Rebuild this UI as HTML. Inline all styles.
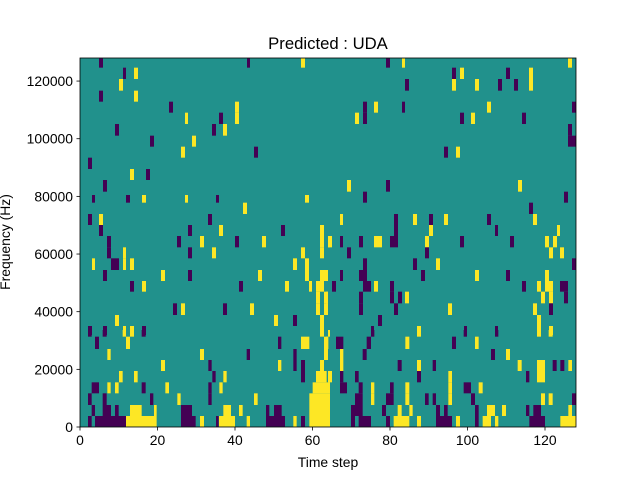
<!DOCTYPE html>
<html><head><meta charset="utf-8"><style>
body{margin:0;background:#fff;}
svg{display:block;font-family:"Liberation Sans","DejaVu Sans",sans-serif;}
</style></head><body>
<svg id="s" width="640" height="480" xmlns="http://www.w3.org/2000/svg">
<defs><clipPath id="c"><rect x="80" y="58" width="496" height="369"/></clipPath></defs>
<rect x="80" y="58" width="496" height="369" fill="#21918c"/>
<g id="cells" clip-path="url(#c)"></g>
<rect x="80" y="58" width="496" height="369" fill="none" stroke="#000" stroke-width="0.8"/>
<g id="ax" font-size="13.9" fill="#000"></g>
<text x="328" y="49" font-size="16.7" text-anchor="middle">Predicted : UDA</text>
<text x="328" y="467" font-size="13.9" text-anchor="middle">Time step</text>
<text transform="translate(10,242) rotate(-90)" font-size="13.9" text-anchor="middle">Frequency (Hz)</text>
</svg>
<script>
var Z=[
[80,330,{"258-290":"P24-35 P45-138 Y138-230 P303-347 Y360-372 P408-416 Y417-465 Y500-510 P558-615 Y640-650 P663-675 Y688-750",
"225-258":"P35-45 P68-93 P105-116 Y150-185 Y222-230 P303-336 Y430-453 Y477-488 P558-568 P582-605 Y688-750",
"190-225":"P24-35 P68-80 P210-220 Y292-302 P385-395 Y522-533 Y688-750",
"157-190":"P35-57 Y82-92 Y105-116 P185-197 Y256-267 P385-395 Y418-428 Y698-750",
"123-157":"Y117-128 Y162-173 P397-407 Y430-440 P663-675 Y708-740 Y744-750",
"90-123":"Y243-255 P385-395 Y594-604 P640-650 P663-675 Y720-732",
"57-90":"Y82-92 Y360-372 P500-510 P640-650 Y732-744",
"20-57":"P45-57 Y138-150 P594-604 Y663-688 Y732-744",
"0-20":"P24-35 P68-80 Y128-138 Y150-162 P185-197 Y720-732 Y744-750"}],
[326,330,{"258-290":"P75-87 P98-135 P180-192 Y203-250 Y273-285 P330-378 Y390-402 P447-458 Y470-495 Y507-517 P610-657 Y703-750",
"225-258":"Y0-7 P75-110 P168-180 Y215-227 Y250-260 P330-342 P354-365 P447-458 Y483-507 Y528-540 P600-610 P622-645 Y727-738",
"190-225":"P87-110 Y135-145 P180-203 Y238-250 P297-308 P320-330 Y367-378 P435-447 Y645-657 Y668-680 P738-750",
"157-190":"P42-63 P98-110 Y135-145 P192-203 Y238-250 Y367-378 P413-435 Y458-470",
"123-157":"Y7-18 P42-52 P87-98 P273-285 Y367-378 P600-610 Y633-657",
"90-123":"Y42-52 P215-227 Y273-285 P320-330 Y575-587 Y633-657 P680-692 P703-715 Y727-738",
"57-90":"Y42-52 P110-122 P495-507 Y540-552",
"20-57":"Y0-7 P30-52 P122-135 Y238-250 P378-390 Y447-458",
"0-20":"P135-145 Y273-285 P413-423 P507-517 Y633-645 Y668-680"}],
[80,195,{"0-23":"P36-45 P138-150 Y186-198 Y315-324 P408-417 Y675-687",
"23-57":"Y489-501",
"57-90":"P24-36 Y57-69 P384-396",
"90-123":"P57-69 P324-336 Y417-429 P603-615 Y720-732",
"123-157":"P81-93 P291-303 Y360-372 P465-477 Y546-558 Y720-732 Y744-750",
"157-190":"P81-93 Y129-138 P324-336 Y396-408 Y663-675 Y720-732",
"190-225":"Y36-45 P93-117 Y129-138 Y150-162 Y639-651 Y675-687",
"225-258":"P69-81 Y243-255 P324-336 Y534-546 Y675-687 Y720-744",
"258-290":"P150-162 Y186-198 P477-489 Y615-627 Y687-696 Y708-732",
"290-325":"Y708-720 Y732-744",
"325-360":"P279-291 Y303-315 P429-441 Y510-522 Y708-720 Y732-744",
"360-393":"Y105-117 Y582-594 P639-651 Y720-732",
"393-420":"P24-36 P69-81 Y129-138 Y150-162 P186-198 Y720-732"}],
[326,195,{"0-23":"P111-123 P714-726",
"23-57":"P609-621",
"57-90":"Y42-51 P204-216 Y261-273 P309-321 Y354-366 P483-495 Y621-633",
"90-123":"P204-216 Y309-321 P507-516 Y693-702",
"123-157":"Y6-18 P42-51 P99-111 Y144-168 P192-216 Y297-309 P402-414 P552-564 Y657-669 Y681-693",
"157-190":"P63-75 P297-309 Y669-681 Y702-714",
"190-225":"P111-123 P261-273 Y330-342 P738-750",
"225-258":"Y0-6 P42-51 P99-123 P285-297 Y447-459 P540-552 Y657-669",
"258-290":"P18-30 P111-135 Y144-156 P192-204 P588-600 Y633-645 Y657-681 P702-726",
"290-325":"Y0-6 P99-111 P192-204 P216-228 Y237-249 Y645-657 Y669-681 P714-726",
"325-360":"Y0-6 P99-111 P204-216 Y366-378 Y621-633 P669-681",
"360-393":"P156-168 Y633-645",
"393-420":"P135-144 Y273-285 P414-423 P507-516 Y633-645 Y669-681"}],
[80,55,{"10-38":"P57-69 P501-510 Y663-675",
"38-72":"P129-138 Y162-174",
"72-107":"Y117-129",
"107-140":"P57-69 Y162-174",
"140-173":"P267-279 Y465-477",
"173-207":"Y315-324 P417-429 Y465-477",
"207-242":"P105-117 P396-408 Y429-441",
"242-275":"P210-222 Y336-348",
"275-308":"Y303-315 P522-534",
"308-342":"P24-36",
"342-375":"Y150-162 P198-210",
"375-410":"P69-81"}],
[326,55,{"10-38":"P180-192 Y228-237 Y726-738",
"38-72":"P378-390 Y402-414 P540-552 Y609-621",
"72-107":"P237-249 Y378-390 Y447-459 P516-528 P564-576 Y609-621",
"140-173":"P111-123 Y144-156 P228-237 Y483-495 P738-750",
"173-207":"Y87-99 P111-123 P402-414 Y435-447 P588-600",
"207-242":"P726-738",
"242-275":"P726-750",
"275-308":"P354-366 Y390-402",
"375-410":"Y63-75 P180-192 Y576-588",
"410-435":"P111-123 P714-726"}]
];
var h='';
Z.forEach(function(z){var ox=z[0],oy=z[1];for(var b in z[2]){var yy=b.split('-').map(Number);
z[2][b].split(' ').forEach(function(t){var c=t[0]=='P'?'#440154':'#fde725';var xx=t.slice(1).split('-').map(Number);
h+='<rect x="'+(ox+xx[0]/3).toFixed(2)+'" y="'+(oy+yy[0]/3).toFixed(2)+'" width="'+((xx[1]-xx[0])/3).toFixed(2)+'" height="'+((yy[1]-yy[0])/3).toFixed(2)+'" fill="'+c+'"/>';});}});
document.getElementById('cells').innerHTML=h;
var a='';
for(var i=0;i<=120;i+=20){var x=80+i*3.875;a+='<line x1="'+x+'" y1="427" x2="'+x+'" y2="430.5" stroke="#000" stroke-width="0.8"/><text x="'+x+'" y="445" text-anchor="middle">'+i+'</text>';}
for(var v=0;v<=120000;v+=20000){var y=427-v*369/128000;a+='<line x1="76.5" y1="'+y+'" x2="80" y2="'+y+'" stroke="#000" stroke-width="0.8"/><text x="73" y="'+(y+5)+'" text-anchor="end">'+v+'</text>';}
document.getElementById('ax').innerHTML=a;
</script>
</body></html>
